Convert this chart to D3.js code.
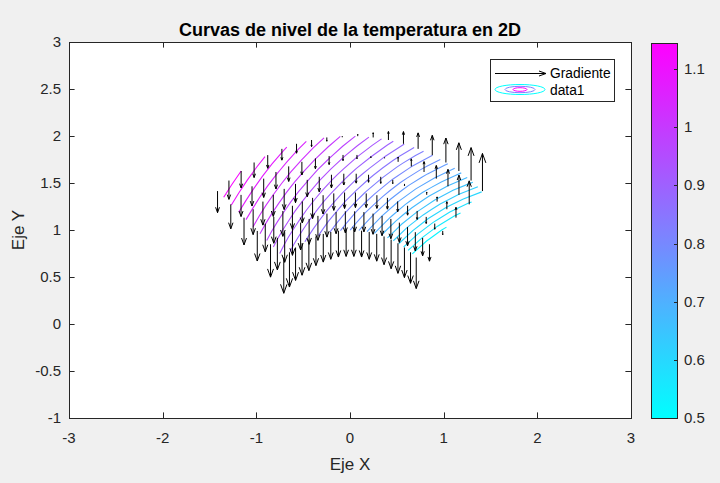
<!DOCTYPE html>
<html><head><meta charset="utf-8">
<script src="https://cdn.jsdelivr.net/npm/d3@7"></script>
<style>
body{margin:0;background:#f0f0f0;}
svg{display:block;font-family:"Liberation Sans",Arial,Helvetica,sans-serif;}
</style></head>
<body><svg id="chart" width="720" height="483"></svg>
<script>
// ---------- data ----------
// polar grid: rows = radius, columns = angle
const radii = [1.0, 1.2, 1.4, 1.6, 1.8, 2.0];
const thetaDeg = [45.00, 49.74, 54.47, 59.21, 63.95, 68.68, 73.42, 78.16, 82.89, 87.63,
                  92.37, 97.11, 101.84, 106.58, 111.32, 116.05, 120.79, 125.53, 130.26, 135.00];
// temperature at every grid node
const temperature = [
  [0.500,0.536,0.571,0.604,0.635,0.664,0.692,0.718,0.742,0.765,0.786,0.805,0.823,0.840,0.855,0.868,0.880,0.891,0.901,0.909],
  [0.505,0.548,0.588,0.625,0.661,0.694,0.725,0.754,0.780,0.805,0.828,0.850,0.869,0.887,0.903,0.918,0.931,0.942,0.952,0.961],
  [0.519,0.567,0.611,0.653,0.691,0.727,0.761,0.792,0.820,0.847,0.871,0.894,0.914,0.933,0.950,0.965,0.979,0.991,1.001,1.010],
  [0.540,0.592,0.640,0.684,0.725,0.763,0.798,0.831,0.861,0.888,0.914,0.937,0.958,0.978,0.995,1.011,1.025,1.037,1.048,1.057],
  [0.569,0.623,0.673,0.720,0.762,0.801,0.837,0.871,0.902,0.930,0.956,0.980,1.001,1.021,1.039,1.055,1.069,1.082,1.093,1.102],
  [0.602,0.659,0.710,0.757,0.801,0.840,0.877,0.911,0.942,0.971,0.997,1.021,1.043,1.063,1.081,1.097,1.112,1.125,1.136,1.145]
];
// vertical gradient component at every grid node (arrow length, data units)
const gradY = [
  [-0.33,-0.33,-0.32,-0.32,-0.31,-0.30,-0.29,-0.29,-0.28,-0.28,-0.28,-0.28,-0.29,-0.30,-0.31,-0.33,-0.34,-0.35,-0.37,-0.38],
  [-0.18,-0.19,-0.20,-0.20,-0.21,-0.21,-0.21,-0.22,-0.21,-0.22,-0.23,-0.23,-0.25,-0.26,-0.27,-0.29,-0.30,-0.32,-0.34,-0.35],
  [-0.04,-0.06,-0.07,-0.09,-0.10,-0.11,-0.12,-0.14,-0.15,-0.16,-0.17,-0.18,-0.20,-0.22,-0.23,-0.25,-0.27,-0.28,-0.30,-0.32],
  [ 0.11, 0.08, 0.05, 0.03, 0.00,-0.02,-0.04,-0.07,-0.08,-0.10,-0.12,-0.14,-0.16,-0.18,-0.20,-0.22,-0.23,-0.25,-0.27,-0.29],
  [ 0.25, 0.21, 0.18, 0.14, 0.11, 0.08, 0.05, 0.01,-0.02,-0.04,-0.06,-0.09,-0.11,-0.14,-0.16,-0.18,-0.20,-0.21,-0.23,-0.26],
  [ 0.40, 0.35, 0.30, 0.26, 0.21, 0.17, 0.13, 0.09, 0.05, 0.02,-0.01,-0.04,-0.07,-0.10,-0.12,-0.14,-0.16,-0.18,-0.20,-0.23]
];
const contourLevels = [0.525,0.55,0.575,0.6,0.625,0.65,0.675,0.7,0.725,0.75,0.775,0.8,0.825,0.85,0.875,0.9,0.925,0.95,0.975,1.0,1.025,1.05,1.075,1.1,1.125];
const colorLimits = [0.5, 1.145];
const xTicks = [-3,-2,-1,0,1,2,3];
const yTicks = [-1,-0.5,0,0.5,1,1.5,2,2.5,3];
const cbTicks = [0.5,0.6,0.7,0.8,0.9,1,1.1];
const titleText = "Curvas de nivel de la temperatura en 2D";
const xLabel = "Eje X", yLabel = "Eje Y";
const legendLabels = ["Gradiente", "data1"];

// ---------- layout ----------
const AX = {l:69, r:631, t:42, b:418};
const CB = {l:651, r:677, t:43, b:418};
const ink = "#262626";
const svg = d3.select("#chart");
const x = d3.scaleLinear().domain([-3,3]).range([AX.l, AX.r]);
const y = d3.scaleLinear().domain([-1,3]).range([AX.b, AX.t]);
const cool = t => d3.rgb(Math.round(255*t), Math.round(255*(1-t)), 255).toString();
const cnorm = d3.scaleLinear().domain(colorLimits).range([0,1]).clamp(true);

svg.append("rect").attr("x",AX.l).attr("y",AX.t).attr("width",AX.r-AX.l).attr("height",AX.b-AX.t).attr("fill","#fff");
svg.append("clipPath").attr("id","clip").append("rect").attr("x",AX.l).attr("y",AX.t).attr("width",AX.r-AX.l).attr("height",AX.b-AX.t);
const plot = svg.append("g").attr("clip-path","url(#clip)");

// ---------- contours ----------
const nx = thetaDeg.length, ny = radii.length;
const node = (i,j) => { const a = thetaDeg[i]*Math.PI/180; return [radii[j]*Math.cos(a), radii[j]*Math.sin(a)]; };
function toXY(fx, fy){
  fx = Math.max(0, Math.min(nx-1, fx)); fy = Math.max(0, Math.min(ny-1, fy));
  const i0 = Math.min(nx-2, Math.floor(fx)), j0 = Math.min(ny-2, Math.floor(fy));
  const tx = fx-i0, ty = fy-j0;
  const p00=node(i0,j0), p10=node(i0+1,j0), p01=node(i0,j0+1), p11=node(i0+1,j0+1);
  return [0,1].map(k => (1-tx)*(1-ty)*p00[k] + tx*(1-ty)*p10[k] + (1-tx)*ty*p01[k] + tx*ty*p11[k]);
}
const values = temperature.flat();
const gen = d3.contours().size([nx, ny]).smooth(true);
const line = d3.line().x(p => x(p[0])).y(p => y(p[1]));
const isFrame = p => p[0] <= 0 || p[0] >= nx || p[1] <= 0 || p[1] >= ny;
contourLevels.forEach(lv => {
  const mp = gen.contour(values, lv);
  const lines = [];
  mp.coordinates.forEach(poly => poly.forEach(ring => {
    let pts = ring.slice(0, -1);
    const k = pts.findIndex(isFrame);
    if (k === -1) pts.push(pts[0]); else pts = pts.slice(k).concat(pts.slice(0, k));
    let cur = [];
    for (const p of pts) {
      if (isFrame(p)) { if (cur.length > 1) lines.push(cur); cur = []; }
      else cur.push(toXY(p[0]-0.5, p[1]-0.5));
    }
    if (cur.length > 1) lines.push(cur);
  }));
  plot.append("g").selectAll("path").data(lines).join("path")
    .attr("d", line).attr("fill","none").attr("stroke", cool(cnorm(lv))).attr("stroke-width",1.1);
});

// ---------- quiver ----------
const qp = d3.path();
radii.forEach((r,j) => thetaDeg.forEach((t,i) => {
  const [bx,by] = node(i,j), v = gradY[j][i];
  const x0 = x(bx), y0 = y(by), y1 = y(by+v), L = y0-y1;
  qp.moveTo(x0,y0); qp.lineTo(x0,y1);
  const hl = 0.25*L, hw = 0.09*Math.abs(L);
  qp.moveTo(x0-hw, y1+hl); qp.lineTo(x0,y1); qp.lineTo(x0+hw, y1+hl);
}));
plot.append("path").attr("d", qp.toString()).attr("fill","none").attr("stroke","#000").attr("stroke-width",1);

// ---------- axes ----------
const TL = 5.6;
const ag = svg.append("g").attr("stroke",ink).attr("stroke-width",1).attr("fill","none");
xTicks.forEach(v => { const px = Math.round(x(v))+0.5;
  ag.append("line").attr("x1",px).attr("x2",px).attr("y1",AX.b).attr("y2",AX.b-TL);
  ag.append("line").attr("x1",px).attr("x2",px).attr("y1",AX.t).attr("y2",AX.t+TL); });
yTicks.forEach(v => { const py = Math.round(y(v))+0.5;
  ag.append("line").attr("x1",AX.l).attr("x2",AX.l+TL).attr("y1",py).attr("y2",py);
  ag.append("line").attr("x1",AX.r).attr("x2",AX.r-TL).attr("y1",py).attr("y2",py); });
ag.append("rect").attr("x",AX.l+0.5).attr("y",AX.t+0.5).attr("width",AX.r-AX.l).attr("height",AX.b-AX.t);

const tg = svg.append("g").attr("fill",ink).style("font-size","15px");
xTicks.forEach(v => tg.append("text").attr("x",x(v)).attr("y",443).attr("text-anchor","middle").text(v));
yTicks.forEach(v => tg.append("text").attr("x",61).attr("y",y(v)+5).attr("text-anchor","end").text(v));
svg.append("text").attr("x",(AX.l+AX.r)/2).attr("y",470).attr("text-anchor","middle").attr("fill",ink).style("font-size","17px").text(xLabel);
svg.append("text").attr("transform","translate(24,230) rotate(-90)").attr("text-anchor","middle").attr("fill",ink).style("font-size","17px").text(yLabel);
svg.append("text").attr("x",350).attr("y",36).attr("text-anchor","middle").attr("fill","#000").style("font-size","18px").style("font-weight","bold").text(titleText);

// ---------- colorbar ----------
const grad = svg.append("defs").append("linearGradient").attr("id","cg").attr("x1",0).attr("y1",1).attr("x2",0).attr("y2",0);
d3.range(0,1.0001,0.05).forEach(t => grad.append("stop").attr("offset",t).attr("stop-color",cool(t)));
svg.append("rect").attr("x",CB.l).attr("y",CB.t).attr("width",CB.r-CB.l).attr("height",CB.b-CB.t).attr("fill","url(#cg)");
const cy = d3.scaleLinear().domain(colorLimits).range([CB.b, CB.t]);
cbTicks.forEach(v => { const py = Math.round(cy(v))+0.5;
  svg.append("line").attr("x1",CB.r-3).attr("x2",CB.r).attr("y1",py).attr("y2",py).attr("stroke",ink);
  svg.append("text").attr("x",684).attr("y",cy(v)+5).attr("fill",ink).style("font-size","15px").text(v); });
svg.append("rect").attr("x",CB.l+0.5).attr("y",CB.t+0.5).attr("width",CB.r-CB.l).attr("height",CB.b-CB.t).attr("fill","none").attr("stroke",ink);

// ---------- legend ----------
const lg = svg.append("g");
lg.append("rect").attr("x",490.5).attr("y",59.5).attr("width",124).attr("height",42).attr("fill","#fff").attr("stroke",ink);
lg.append("path").attr("d","M495,73.5L546,73.5M539,71L546,73.5L539,76").attr("stroke","#000").attr("fill","none");
[[25,5,colorLimits[0]],[15,3.2,0.82],[7,1.8,colorLimits[1]]].forEach(([rx,ry,v]) =>
  lg.append("ellipse").attr("cx",520).attr("cy",89.5).attr("rx",rx).attr("ry",ry).attr("fill","none").attr("stroke",cool(cnorm(v))));
lg.append("text").attr("x",550).attr("y",78).attr("fill","#000").style("font-size","13.8px").text(legendLabels[0]);
lg.append("text").attr("x",550).attr("y",94.5).attr("fill","#000").style("font-size","13.8px").text(legendLabels[1]);
</script></body></html>
